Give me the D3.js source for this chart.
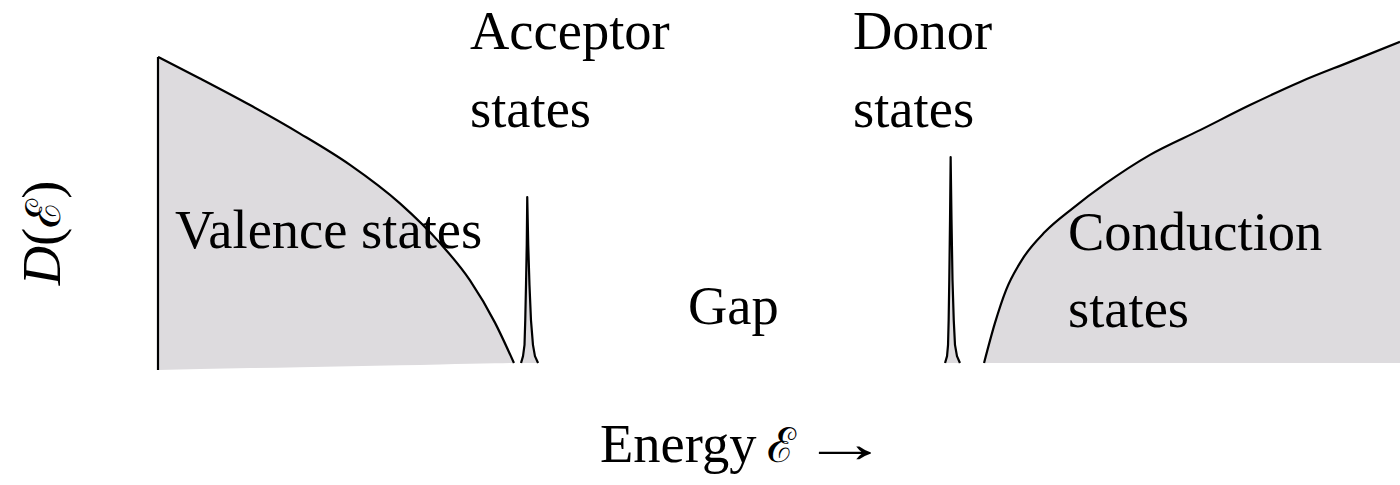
<!DOCTYPE html>
<html>
<head>
<meta charset="utf-8">
<script src="https://cdn.jsdelivr.net/npm/d3@7"></script>
<style>
  html, body { margin: 0; padding: 0; background: #fff; }
  svg { display: block; }
  text { font-family: "Liberation Serif", "Times New Roman", serif; fill: #000; }
</style>
</head>
<body>
<svg id="chart" width="1400" height="485"></svg>
<script>
// Energy axis runs 0..100 (arbitrary units), density of states 0..10.
const valenceE = [0, 3.38, 7.41, 11.43, 15.46, 19.48, 22.71, 25.12, 27.13, 28.66];
const valenceD = [9.78, 9.09, 8.24, 7.33, 6.33, 5.10, 3.83, 2.64, 1.29, 0];
// lower edge of the valence fill at the band's two ends
const valenceFloor = [-0.22, 0];

const acceptorE = [29.23, 29.39, 29.51, 29.57, 29.63, 29.69, 29.73, 29.81, 29.91, 30.03, 30.19, 30.35, 30.60];
const acceptorD = [0, 0.22, 0.58, 1.37, 2.49, 3.77, 5.30, 3.77, 2.49, 1.37, 0.58, 0.22, 0];

const donorE = [63.37, 63.53, 63.61, 63.66, 63.71, 63.77, 63.82, 63.89, 63.97, 64.07, 64.17, 64.33, 64.57];
const donorD = [0, 0.22, 0.58, 1.37, 2.65, 4.57, 6.58, 4.57, 2.65, 1.37, 0.58, 0.22, 0];

const conductionE = [66.51, 67.39, 68.28, 69.65, 71.42, 73.67, 76.25, 79.87, 83.90, 87.92, 91.95, 95.97, 100];
const conductionD = [0, 1.28, 2.33, 3.35, 4.19, 4.95, 5.72, 6.65, 7.44, 8.24, 8.98, 9.62, 10.26];

// text labels: [text, energy, density]
const labels = [
  ["Acceptor", 25.12, 10.04],
  ["states", 25.12, 7.54],
  ["Donor", 55.96, 10.04],
  ["states", 55.96, 7.54],
  ["Valence states", 1.37, 3.67],
  ["Gap", 42.67, 1.25],
  ["Conduction", 73.27, 3.61],
  ["states", 73.27, 1.15]
];
const xTitle = ["Energy", "\u2130", "\u2192"];
const yTitle = ["D", "(", "\u2130", ")"];

const fillColor = "#dddbde";
const fontSize = 54.5;
const symbolSize = 48;

const svg = d3.select("#chart");
const x = d3.scaleLinear().domain([0, 100]).range([158, 1400]);
const y = d3.scaleLinear().domain([0, 10]).range([363, 50]);

const zip = (es, ds) => es.map((e, i) => ({ e, d: ds[i] }));

const valence = zip(valenceE, valenceD);
const floorScale = d3.scaleLinear()
  .domain([valenceE[0], valenceE[valenceE.length - 1]])
  .range(valenceFloor);

const areaV = d3.area()
  .x(p => x(p.e))
  .y0(p => y(floorScale(p.e)))
  .y1(p => y(p.d))
  .curve(d3.curveMonotoneX);

const area0 = curve => d3.area()
  .x(p => x(p.e))
  .y0(y(0))
  .y1(p => y(p.d))
  .curve(curve);

const lineOf = curve => d3.line()
  .x(p => x(p.e))
  .y(p => y(p.d))
  .curve(curve);

const bands = [
  { data: valence, area: areaV, line: lineOf(d3.curveMonotoneX) },
  { data: zip(acceptorE, acceptorD), area: area0(d3.curveLinear), line: lineOf(d3.curveLinear) },
  { data: zip(donorE, donorD), area: area0(d3.curveLinear), line: lineOf(d3.curveLinear) },
  { data: zip(conductionE, conductionD), area: area0(d3.curveMonotoneX), line: lineOf(d3.curveMonotoneX) }
];

const g = svg.append("g");

// shaded regions
g.selectAll("path.fill")
  .data(bands)
  .join("path")
  .attr("class", "fill")
  .attr("d", b => b.area(b.data))
  .attr("fill", fillColor)
  .attr("stroke", "none");

// labels
svg.append("g")
  .selectAll("text")
  .data(labels)
  .join("text")
  .attr("x", d => x(d[1]))
  .attr("y", d => y(d[2]))
  .attr("font-size", fontSize)
  .text(d => d[0]);

// outlines
g.selectAll("path.edge")
  .data(bands)
  .join("path")
  .attr("class", "edge")
  .attr("d", b => b.line(b.data))
  .attr("fill", "none")
  .attr("stroke", "#000")
  .attr("stroke-width", 2.2)
  .attr("stroke-linejoin", "round");

// left wall of the valence band
g.append("line")
  .attr("x1", x(valenceE[0])).attr("x2", x(valenceE[0]))
  .attr("y1", y(valenceFloor[0])).attr("y2", y(valenceD[0]))
  .attr("stroke", "#000")
  .attr("stroke-width", 2.2);

// x-axis title: word, symbol, stretched arrow in one text element
const xt = svg.append("text")
  .attr("x", 600).attr("y", 462)
  .attr("font-size", fontSize);
xt.append("tspan").text(xTitle[0]);
xt.append("tspan").attr("x", 767).attr("font-size", symbolSize).text(xTitle[1]);
xt.append("tspan").attr("x", 801)
  .attr("textLength", 88).attr("lengthAdjust", "spacingAndGlyphs")
  .text(xTitle[2]);

// y-axis title
const yt = svg.append("text")
  .attr("transform", "translate(60,233) rotate(-90)")
  .attr("text-anchor", "middle")
  .attr("font-size", fontSize);
yt.append("tspan").attr("font-style", "italic").text(yTitle[0]);
yt.append("tspan").text(yTitle[1]);
yt.append("tspan").attr("font-size", symbolSize).text(yTitle[2]);
yt.append("tspan").text(yTitle[3]);
</script>
</body>
</html>
